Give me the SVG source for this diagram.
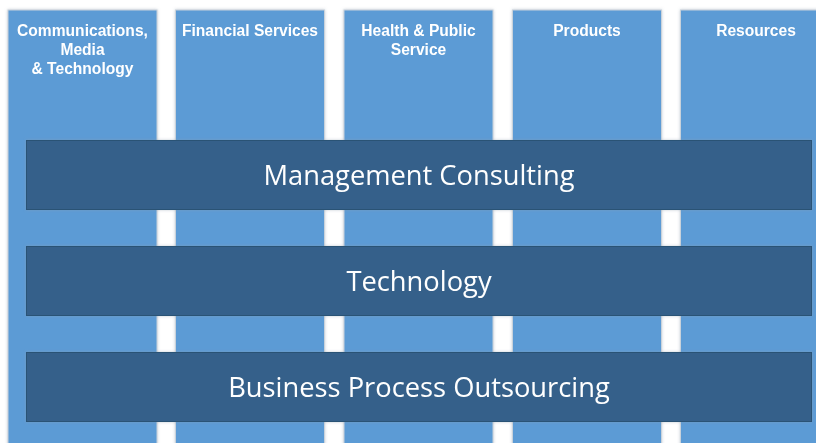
<svg xmlns="http://www.w3.org/2000/svg" width="816" height="443" viewBox="0 0 816 443">
<defs>
<style>
.col{fill:#5B9BD5;stroke:#C9D2DB;stroke-width:1}
.hdr{font-family:"Liberation Sans",Arial,sans-serif;font-weight:bold;font-size:15.6px;fill:#FFFFFF;text-anchor:middle}
.bar{fill:#36618A;stroke:#2C5275;stroke-width:1}
.lbl{font-family:"Open Sans","Liberation Sans",sans-serif;font-size:27.3px;fill:#FFFFFF;text-anchor:middle}
</style>
<filter id="sh" x="-5%" y="-5%" width="110%" height="110%">
<feDropShadow dx="0" dy="0" stdDeviation="1.5" flood-color="#8A9AAA" flood-opacity="0.5"/>
</filter>
</defs>
<rect width="816" height="443" fill="#FFFFFF"/>
<g id="col-cmt" filter="url(#sh)">
<rect class="col" x="8" y="10" width="149" height="440"/>
<text class="hdr" x="82.5" y="36">Communications,</text>
<text class="hdr" x="82.5" y="55">Media</text>
<text class="hdr" x="82.5" y="74">&amp; Technology</text>
</g>
<g id="col-fs" filter="url(#sh)">
<rect class="col" x="175.5" y="10" width="149" height="440"/>
<text class="hdr" x="250" y="36">Financial Services</text>
</g>
<g id="col-hps" filter="url(#sh)">
<rect class="col" x="344" y="10" width="149" height="440"/>
<text class="hdr" x="418.5" y="36">Health &amp; Public</text>
<text class="hdr" x="418.5" y="55">Service</text>
</g>
<g id="col-prod" filter="url(#sh)">
<rect class="col" x="512.5" y="10" width="149" height="440"/>
<text class="hdr" x="587" y="36">Products</text>
</g>
<g id="col-res" filter="url(#sh)">
<rect class="col" x="680.5" y="10" width="150" height="440"/>
<text class="hdr" x="756" y="36">Resources</text>
</g>
<g id="bar-mc" filter="url(#sh)">
<rect class="bar" x="26.5" y="140.5" width="785" height="69"/>
<text class="lbl" x="419" y="185">Management Consulting</text>
</g>
<g id="bar-tech" filter="url(#sh)">
<rect class="bar" x="26.5" y="246.5" width="785" height="69"/>
<text class="lbl" x="419" y="291">Technology</text>
</g>
<g id="bar-bpo" filter="url(#sh)">
<rect class="bar" x="26.5" y="352.5" width="785" height="69"/>
<text class="lbl" x="419" y="397">Business Process Outsourcing</text>
</g>
<g id="connectors"/>
</svg>
